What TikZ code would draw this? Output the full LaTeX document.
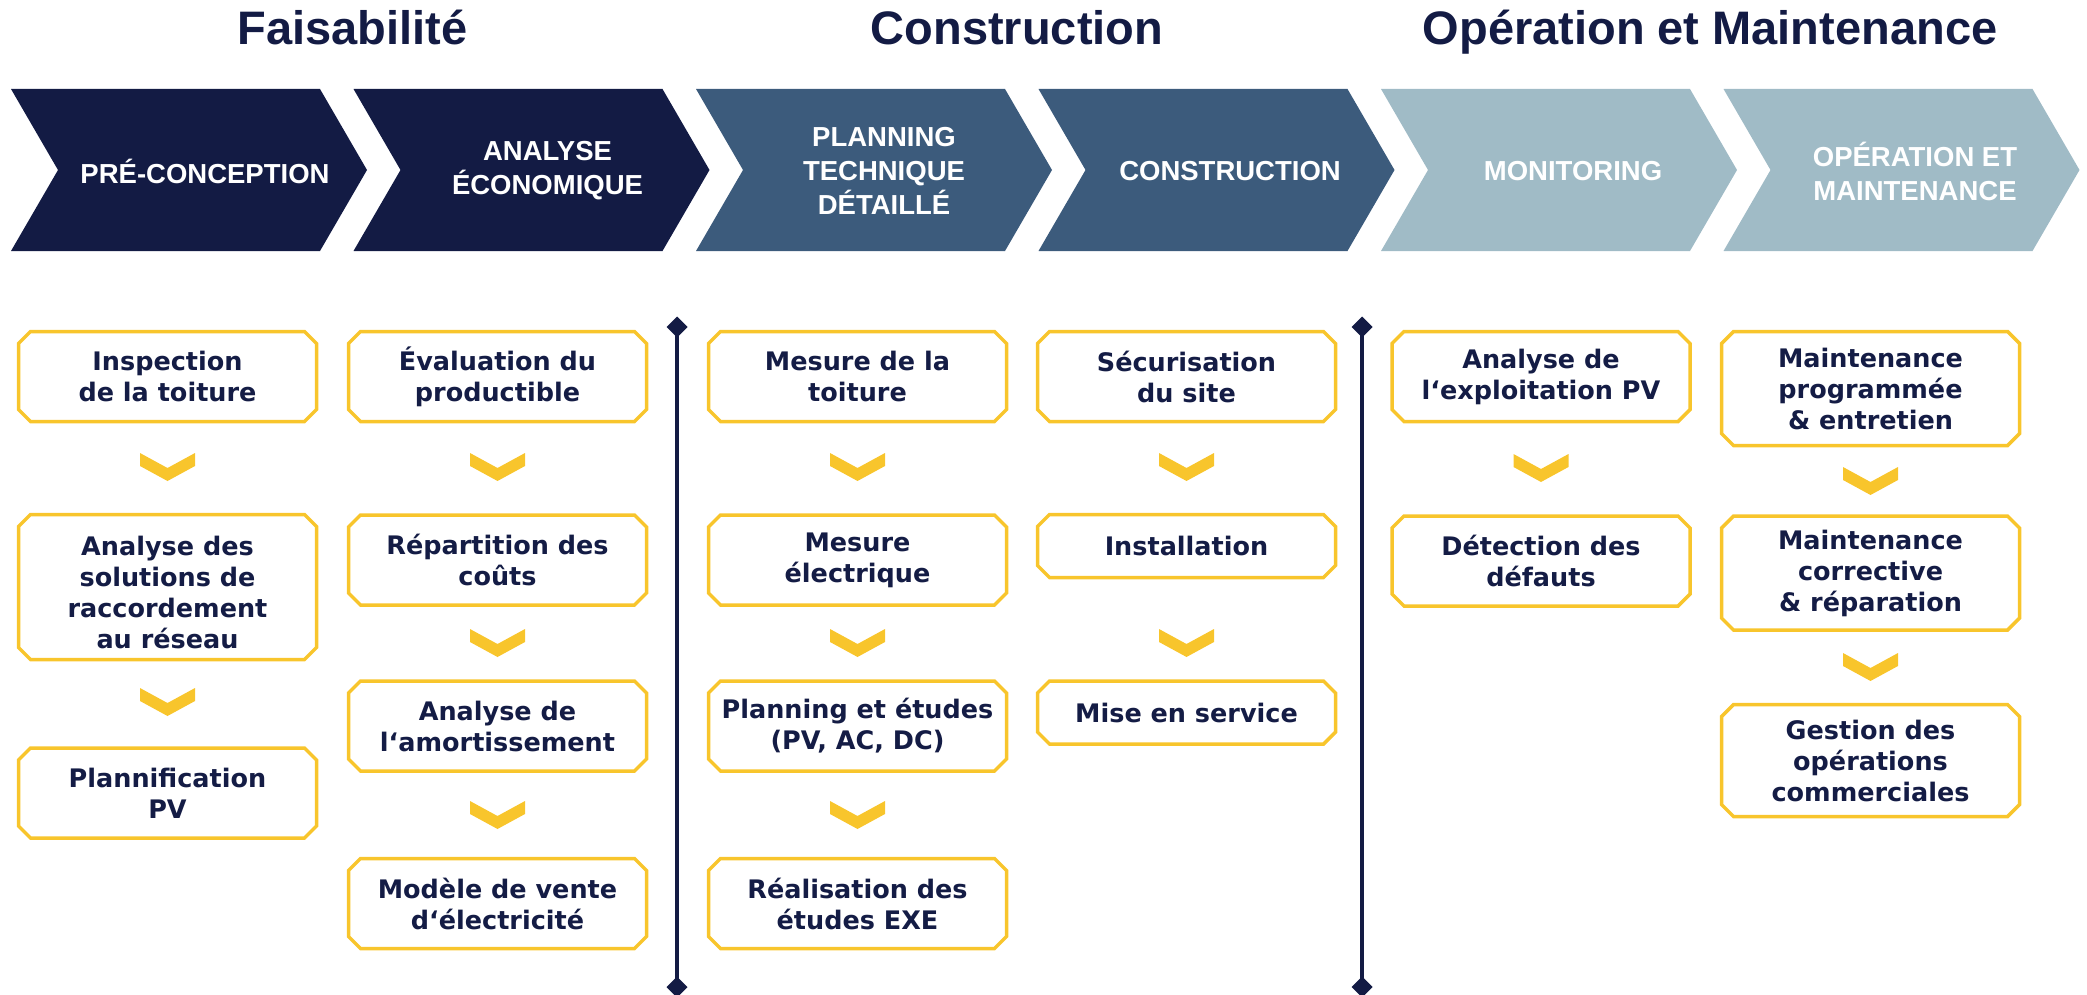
\documentclass[tikz,border=0pt]{standalone}
\usepackage{fontspec}
\usetikzlibrary{shapes.misc}
\newfontfamily\hdfont{Liberation Sans}
\newfontfamily\bxfont{DejaVu Sans}
\definecolor{navy}{HTML}{131B44}
\definecolor{midblue}{HTML}{3C5B7C}
\definecolor{lightblue}{HTML}{A0BBC6}
\definecolor{ycol}{HTML}{F8C52C}
\definecolor{tnavy}{HTML}{141C45}
\newcommand\phasechev[2]{\fill[#2] (#1,89) -- ++(309,0) -- ++(47,81) -- ++(-47,81) -- ++(-309,0) -- ++(47,-81) -- cycle;}
\newcommand\smallchev[2]{\fill[ycol] ({#1-27.5},#2) -- ({#1},{#2+15}) -- ({#1+27.5},#2) -- ({#1+27.5},{#2+13}) -- ({#1},{#2+28}) -- ({#1-27.5},{#2+13}) -- cycle;}
\begin{document}
\begin{tikzpicture}[x=1pt,y=-1pt,
  header/.style={anchor=base, text=navy, font=\hdfont\bfseries\fontsize{47}{51}\selectfont, inner sep=0pt},
  phase/.style={text=white, align=center, font=\hdfont\bfseries\fontsize{27.5}{34}\selectfont, inner sep=0pt},
  box/.style={shape=chamfered rectangle, chamfered rectangle xsep=6pt, chamfered rectangle ysep=6pt,
    draw=ycol, line width=3.5pt, fill=white, minimum width=298pt, inner sep=0pt,
    text=tnavy, align=center, font=\bxfont\bfseries\fontsize{25.5}{31}\selectfont},
  sep/.style={draw=navy, line width=4pt},
  dia/.style={fill=navy}
]
\useasboundingbox (0,0) rectangle (2087,995);

% headers
\node[header] (h1) at (352.5,45) {Faisabilité};
\node[header] (h2) at (1017,45) {Construction};
\node[header] (h3) at (1710,45) {Opération et Maintenance};

% phase chevrons
\phasechev{11}{navy}
\phasechev{353.5}{navy}
\phasechev{696}{midblue}
\phasechev{1038.5}{midblue}
\phasechev{1381}{lightblue}
\phasechev{1723.5}{lightblue}
\node[phase] (p1) at (205,171) {PRÉ-CONCEPTION};
\node[phase] (p2) at (547.5,171) {ANALYSE\\ÉCONOMIQUE};
\node[phase] (p3) at (884,171) {PLANNING\\TECHNIQUE\\DÉTAILLÉ};
\node[phase] (p4) at (1230,171) {CONSTRUCTION};
\node[phase] (p5) at (1573,171) {MONITORING};
\node[phase] (p6) at (1915,171) {OPÉRATION ET\\MAINTENANCE};

% separators
\coordinate (s1t) at (677,327);
\coordinate (s1b) at (677,987);
\coordinate (s2t) at (1362,327);
\coordinate (s2b) at (1362,987);
\draw[sep] (s1t) -- (s1b);
\draw[sep] (s2t) -- (s2b);
\foreach \p in {s1t,s1b,s2t,s2b}{
  \fill[dia] ([yshift=-10.5pt]\p) -- ([xshift=10.5pt]\p) -- ([yshift=10.5pt]\p) -- ([xshift=-10.5pt]\p) -- cycle;
}

% column 1
\node[box, minimum height=90pt] (b11) at (167.5,376.5) {Inspection\\de la toiture};
\node[box, minimum height=145pt] (b12) at (167.5,587) {\rule{0pt}{30pt}Analyse des\\solutions de\\raccordement\\au réseau};
\node[box, minimum height=90pt] (b13) at (167.5,793) {Plannification\\PV};
\smallchev{167.5}{453}
\smallchev{167.5}{688}

% column 2
\node[box, minimum height=90pt] (b21) at (497.5,376.5) {Évaluation du\\productible};
\node[box, minimum height=90pt] (b22) at (497.5,560) {Répartition des\\coûts};
\node[box, minimum height=90pt] (b23) at (497.5,726) {Analyse de\\l‘amortissement};
\node[box, minimum height=90pt] (b24) at (497.5,903.5) {Modèle de vente\\d‘électricité};
\smallchev{497.5}{453}
\smallchev{497.5}{629}
\smallchev{497.5}{801}

% column 3
\node[box, minimum height=90pt] (b31) at (857.5,376.5) {Mesure de la\\toiture};
\node[box, minimum height=90pt] (b32) at (857.5,560) {Mesure\\électrique};
\node[box, minimum height=90pt] (b33) at (857.5,726) {Planning et études\\(PV, AC, DC)};
\node[box, minimum height=90pt] (b34) at (857.5,903.5) {Réalisation des\\études EXE};
\smallchev{857.5}{453}
\smallchev{857.5}{629}
\smallchev{857.5}{801}

% column 4
\node[box, minimum height=90pt] (b41) at (1186.5,376.5) {Sécurisation\\du site};
\node[box, minimum height=63pt] (b42) at (1186.5,546) {Installation};
\node[box, minimum height=63pt] (b43) at (1186.5,712.5) {Mise en service};
\smallchev{1186.5}{453}
\smallchev{1186.5}{629}

% column 5
\node[box, minimum height=90pt] (b51) at (1541,376.5) {Analyse de\\l‘exploitation PV};
\node[box, minimum height=90pt] (b52) at (1541,561) {Détection des\\défauts};
\smallchev{1541}{454}

% column 6
\node[box, minimum height=114pt] (b61) at (1870.5,388.5) {Maintenance\\programmée\\\& entretien};
\node[box, minimum height=114pt] (b62) at (1870.5,573) {Maintenance\\corrective\\\& réparation};
\node[box, minimum height=112pt] (b63) at (1870.5,760.5) {Gestion des\\opérations\\commerciales};
\smallchev{1870.5}{467}
\smallchev{1870.5}{653}
\end{tikzpicture}
\end{document}
